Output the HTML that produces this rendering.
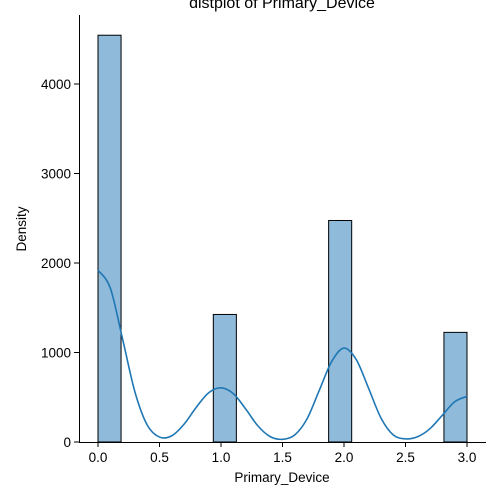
<!DOCTYPE html>
<html><head><meta charset="utf-8"><style>
body{margin:0;background:#fff;}
svg{display:block;font-family:"Liberation Sans",sans-serif;}
</style></head><body>
<svg id="chart" width="500" height="500">
<text x="282" y="8" text-anchor="middle" font-size="16">distplot of Primary_Device</text>
<g id="bars"></g><g id="kde"></g><g id="axes"></g>
<text x="282" y="482" text-anchor="middle" font-size="13.5">Primary_Device</text>
<text x="26" y="229" text-anchor="middle" font-size="13.5" transform="rotate(-90 26 229)">Density</text>
</svg>
<script>
const binStarts=[0,0.9375,1.875,2.8125];
const binWidth=0.1875;
const binCounts=[4545,1425,2475,1225];
const kdeX=[0,0.1,0.2,0.3,0.4,0.5,0.6,0.7,0.8,0.9,1.0,1.1,1.2,1.3,1.4,1.5,1.6,1.7,1.8,1.9,2.0,2.1,2.2,2.3,2.4,2.5,2.6,2.7,2.8,2.9,3.0];
const kdeY=[1920,1720,1150,560,190,55,70,200,390,550,605,540,370,180,60,30,80,260,580,900,1050,920,600,270,80,35,60,150,300,450,510];
const xTicks=[0,0.5,1,1.5,2,2.5,3];
const xTickLabels=["0.0","0.5","1.0","1.5","2.0","2.5","3.0"];
const yTicks=[0,1000,2000,3000,4000];
const yTickLabels=["0","1000","2000","3000","4000"];
const NS="http://www.w3.org/2000/svg";
const sx=v=>98+v*123, sy=v=>442-v*0.0895;
function mk(tag,attrs,parent){const e=document.createElementNS(NS,tag);for(const k in attrs)e.setAttribute(k,attrs[k]);parent.appendChild(e);return e;}
const bars=document.getElementById('bars'),kde=document.getElementById('kde'),axes=document.getElementById('axes');
binStarts.forEach((b,i)=>{
 const r=mk('rect',{x:sx(b),y:sy(binCounts[i]),width:sx(b+binWidth)-sx(b),height:sy(0)-sy(binCounts[i]),fill:'#8fbad9',stroke:'#000','stroke-width':1},bars);
 
 
});
let pts=kdeX.map((x,i)=>[sx(x),sy(kdeY[i])]);
let d='M'+pts[0][0]+','+pts[0][1];
for(let i=0;i<pts.length-1;i++){const p0=pts[Math.max(0,i-1)],p1=pts[i],p2=pts[i+1],p3=pts[Math.min(pts.length-1,i+2)];
 d+=' C'+(p1[0]+(p2[0]-p0[0])/6)+','+(p1[1]+(p2[1]-p0[1])/6)+' '+(p2[0]-(p3[0]-p1[0])/6)+','+(p2[1]-(p3[1]-p1[1])/6)+' '+p2[0]+','+p2[1];}
const kp=mk('path',{d:d,fill:'none',stroke:'#1f77b4','stroke-width':1.6},kde);


mk('line',{x1:79.5,y1:15,x2:79.5,y2:442.5,stroke:'#000','stroke-width':1},axes);
mk('line',{x1:79,y1:442.5,x2:486,y2:442.5,stroke:'#000','stroke-width':1},axes);
xTicks.forEach((t,i)=>{mk('line',{x1:sx(t),x2:sx(t),y1:442,y2:447,stroke:'#000'},axes);
 const tx=mk('text',{x:sx(t),y:462,'text-anchor':'middle','font-size':13.5},axes);tx.textContent=xTickLabels[i];
 
 });
yTicks.forEach((t,i)=>{mk('line',{x1:74,x2:79,y1:sy(t),y2:sy(t),stroke:'#000'},axes);
 const tx=mk('text',{x:71,y:sy(t)+5,'text-anchor':'end','font-size':13.5},axes);tx.textContent=yTickLabels[i];
 
 });
</script>
</body></html>
